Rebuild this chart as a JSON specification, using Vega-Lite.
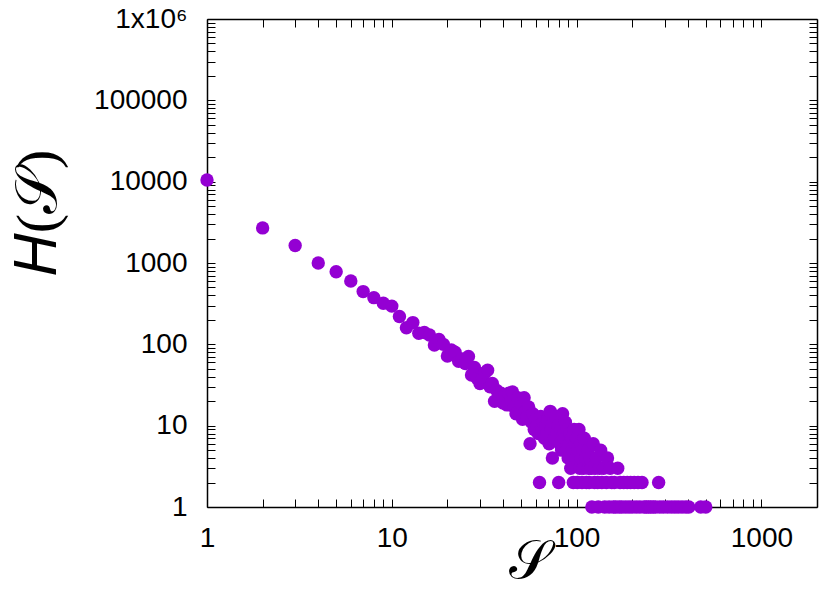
{
  "$schema": "https://vega.github.io/schema/vega-lite/v6.json",
  "width": 610,
  "height": 488,
  "autosize": {"type": "none"},
  "padding": {"left": 207, "top": 19, "right": 5, "bottom": 84},
  "background": "white",
  "config": {
    "view": {"stroke": null},
    "axis": {
      "grid": false,
      "domainColor": "black",
      "domainWidth": 1.5,
      "tickColor": "black",
      "tickWidth": 1,
      "tickSize": -8,
      "labelFont": "Liberation Sans",
      "labelFontSize": 28,
      "labelColor": "black",
      "labelOverlap": false,
      "labelFlush": false,
      "titleColor": "black",
      "titleFont": "Liberation Serif",
      "titleFontWeight": "normal",
      "titleFontStyle": "normal",
      "zindex": 1
    }
  },
  "data": {
    "values": [
      {"S": 1, "H": 10500}, {"S": 2, "H": 2700}, {"S": 3, "H": 1640}, {"S": 4, "H": 1000},
      {"S": 5, "H": 780}, {"S": 6, "H": 600}, {"S": 7, "H": 445}, {"S": 8, "H": 375},
      {"S": 9, "H": 320}, {"S": 10, "H": 295}, {"S": 11, "H": 220}, {"S": 12, "H": 160},
      {"S": 13, "H": 185}, {"S": 14, "H": 137}, {"S": 15, "H": 140}, {"S": 16, "H": 130},
      {"S": 17, "H": 98}, {"S": 18, "H": 115}, {"S": 19, "H": 100}, {"S": 20, "H": 72},
      {"S": 21, "H": 85}, {"S": 22, "H": 80}, {"S": 23, "H": 62}, {"S": 24, "H": 66},
      {"S": 25, "H": 58}, {"S": 26, "H": 71}, {"S": 27, "H": 42}, {"S": 28, "H": 52},
      {"S": 29, "H": 38}, {"S": 30, "H": 33}, {"S": 31, "H": 40}, {"S": 32, "H": 45},
      {"S": 33, "H": 48}, {"S": 34, "H": 30}, {"S": 35, "H": 33}, {"S": 36, "H": 20},
      {"S": 37, "H": 27}, {"S": 38, "H": 22}, {"S": 39, "H": 25}, {"S": 40, "H": 19},
      {"S": 41, "H": 24}, {"S": 42, "H": 18}, {"S": 43, "H": 25}, {"S": 44, "H": 21},
      {"S": 45, "H": 26}, {"S": 46, "H": 17}, {"S": 47, "H": 14}, {"S": 48, "H": 22},
      {"S": 49, "H": 16}, {"S": 50, "H": 19}, {"S": 51, "H": 12}, {"S": 52, "H": 22},
      {"S": 53, "H": 15}, {"S": 54, "H": 13}, {"S": 55, "H": 17}, {"S": 56, "H": 6},
      {"S": 57, "H": 11}, {"S": 58, "H": 14}, {"S": 59, "H": 9}, {"S": 60, "H": 12},
      {"S": 61, "H": 10}, {"S": 62, "H": 8}, {"S": 63, "H": 2}, {"S": 64, "H": 13},
      {"S": 65, "H": 9}, {"S": 66, "H": 11}, {"S": 67, "H": 7}, {"S": 68, "H": 10},
      {"S": 69, "H": 8}, {"S": 70, "H": 12}, {"S": 71, "H": 6}, {"S": 72, "H": 15},
      {"S": 73, "H": 9}, {"S": 74, "H": 4}, {"S": 75, "H": 11}, {"S": 76, "H": 7},
      {"S": 77, "H": 13}, {"S": 78, "H": 8}, {"S": 79, "H": 10}, {"S": 80, "H": 2},
      {"S": 81, "H": 6}, {"S": 82, "H": 9}, {"S": 83, "H": 5}, {"S": 84, "H": 14},
      {"S": 85, "H": 8}, {"S": 86, "H": 7}, {"S": 87, "H": 11}, {"S": 88, "H": 5},
      {"S": 89, "H": 9}, {"S": 90, "H": 4}, {"S": 91, "H": 6}, {"S": 92, "H": 8},
      {"S": 93, "H": 3}, {"S": 94, "H": 7}, {"S": 95, "H": 5}, {"S": 96, "H": 2},
      {"S": 97, "H": 9}, {"S": 98, "H": 6}, {"S": 99, "H": 4}, {"S": 100, "H": 7},
      {"S": 101, "H": 2}, {"S": 102, "H": 5}, {"S": 103, "H": 9}, {"S": 104, "H": 3},
      {"S": 105, "H": 6}, {"S": 106, "H": 4}, {"S": 107, "H": 2}, {"S": 108, "H": 5},
      {"S": 109, "H": 3}, {"S": 110, "H": 7}, {"S": 112, "H": 4}, {"S": 113, "H": 2},
      {"S": 115, "H": 5}, {"S": 116, "H": 3}, {"S": 117, "H": 2}, {"S": 118, "H": 4},
      {"S": 120, "H": 3}, {"S": 121, "H": 1}, {"S": 123, "H": 6}, {"S": 125, "H": 2},
      {"S": 126, "H": 3}, {"S": 128, "H": 4}, {"S": 130, "H": 2}, {"S": 131, "H": 1},
      {"S": 133, "H": 3}, {"S": 135, "H": 5}, {"S": 137, "H": 2}, {"S": 140, "H": 3},
      {"S": 142, "H": 1}, {"S": 145, "H": 2}, {"S": 147, "H": 4}, {"S": 150, "H": 1},
      {"S": 152, "H": 3}, {"S": 155, "H": 2}, {"S": 158, "H": 1}, {"S": 160, "H": 2},
      {"S": 163, "H": 1}, {"S": 167, "H": 3}, {"S": 170, "H": 1}, {"S": 172, "H": 2},
      {"S": 176, "H": 1}, {"S": 180, "H": 2}, {"S": 184, "H": 1}, {"S": 188, "H": 2},
      {"S": 192, "H": 1}, {"S": 196, "H": 2}, {"S": 200, "H": 1}, {"S": 205, "H": 2},
      {"S": 210, "H": 1}, {"S": 215, "H": 2}, {"S": 220, "H": 1}, {"S": 226, "H": 2},
      {"S": 232, "H": 1}, {"S": 238, "H": 1}, {"S": 245, "H": 1}, {"S": 252, "H": 1},
      {"S": 260, "H": 1}, {"S": 268, "H": 1}, {"S": 278, "H": 2}, {"S": 282, "H": 1},
      {"S": 295, "H": 1}, {"S": 310, "H": 1}, {"S": 325, "H": 1}, {"S": 340, "H": 1},
      {"S": 355, "H": 1}, {"S": 372, "H": 1}, {"S": 390, "H": 1}, {"S": 405, "H": 1},
      {"S": 470, "H": 1}, {"S": 500, "H": 1}
    ]
  },
  "layer": [
    {
      "mark": {"type": "point", "filled": true, "shape": "circle", "size": 180, "color": "#9400D3", "opacity": 1, "strokeWidth": 0},
      "encoding": {
        "x": {
          "field": "S", "type": "quantitative",
          "scale": {"type": "log", "domain": [1, 2000], "nice": false},
          "axis": {
            "orient": "bottom",
            "values": [1,2,3,4,5,6,7,8,9,10,20,30,40,50,60,70,80,90,100,200,300,400,500,600,700,800,900,1000],
            "labelExpr": "abs(log(datum.value)/LN10 - round(log(datum.value)/LN10)) < 0.001 ? format(datum.value, 'd') : ''",
            "labelPadding": 25,
            "labelBaseline": "top",
            "labelAngle": 0,
            "title": "𝒮",
            "titleFontSize": 54,
            "titleX": 322,
            "titleY": 70,
            "titleAlign": "center",
            "titleBaseline": "alphabetic",
            "encode": {"ticks": {"update": {"y2": {"signal": "abs(log(datum.value)/LN10 - round(log(datum.value)/LN10)) < 0.001 ? -8 : -4"}}}}
          }
        },
        "y": {
          "field": "H", "type": "quantitative",
          "scale": {"type": "log", "domain": [1, 1000000], "nice": false},
          "axis": {
            "orient": "left",
            "values": [1,2,3,4,5,6,7,8,9,10,20,30,40,50,60,70,80,90,100,200,300,400,500,600,700,800,900,1000,2000,3000,4000,5000,6000,7000,8000,9000,10000,20000,30000,40000,50000,60000,70000,80000,90000,100000,200000,300000,400000,500000,600000,700000,800000,900000,1000000],
            "labelExpr": "abs(log(datum.value)/LN10 - round(log(datum.value)/LN10)) < 0.001 ? (datum.value >= 1000000 ? '1x10⁶' : format(datum.value, 'd')) : ''",
            "labelPadding": 28,
            "labelBaseline": "middle",
            "title": "𝐻(𝒮)",
            "titleFontSize": 58,
            "titleAngle": 270,
            "titleX": -152,
            "titleY": 193,
            "titleAlign": "center",
            "titleBaseline": "alphabetic",
            "encode": {"ticks": {"update": {"x2": {"signal": "abs(log(datum.value)/LN10 - round(log(datum.value)/LN10)) < 0.001 ? 8 : 4"}}}}
          }
        }
      }
    },
    {
      "mark": {"type": "point", "opacity": 0},
      "encoding": {
        "x": {
          "field": "S", "type": "quantitative",
          "scale": {"type": "log", "domain": [1, 2000], "nice": false},
          "axis": {
            "orient": "top",
            "values": [1,2,3,4,5,6,7,8,9,10,20,30,40,50,60,70,80,90,100,200,300,400,500,600,700,800,900,1000],
            "labels": false,
            "title": null,
            "encode": {"ticks": {"update": {"y2": {"signal": "abs(log(datum.value)/LN10 - round(log(datum.value)/LN10)) < 0.001 ? 8 : 4"}}}}
          }
        },
        "y": {
          "field": "H", "type": "quantitative",
          "scale": {"type": "log", "domain": [1, 1000000], "nice": false},
          "axis": {
            "orient": "right",
            "values": [1,2,3,4,5,6,7,8,9,10,20,30,40,50,60,70,80,90,100,200,300,400,500,600,700,800,900,1000,2000,3000,4000,5000,6000,7000,8000,9000,10000,20000,30000,40000,50000,60000,70000,80000,90000,100000,200000,300000,400000,500000,600000,700000,800000,900000,1000000],
            "labels": false,
            "title": null,
            "encode": {"ticks": {"update": {"x2": {"signal": "abs(log(datum.value)/LN10 - round(log(datum.value)/LN10)) < 0.001 ? -8 : -4"}}}}
          }
        }
      }
    }
  ],
  "resolve": {"axis": {"x": "independent", "y": "independent"}}
}
